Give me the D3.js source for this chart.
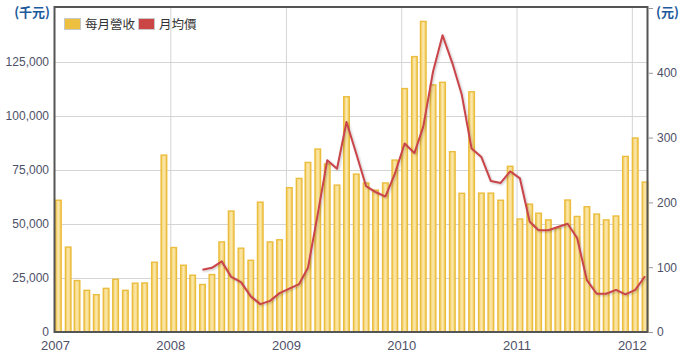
<!DOCTYPE html>
<html><head><meta charset="utf-8">
<script src="https://cdn.jsdelivr.net/npm/d3@7"></script>
<style>
html,body{margin:0;padding:0;background:#fff;}
svg{display:block;font-family:"Liberation Sans",Arial,sans-serif;}
</style></head>
<body><svg id="chart" width="681" height="359"></svg>
<script>
// ---- data ----
const startMonth = "2007-01";
const revenue = [
  61000, 39300, 23800, 19300, 17300, 20200, 24400, 19300, 22600, 22700, 32300, 81900,
  39100, 30900, 26300, 22000, 26600, 41700, 56000, 38800, 33200, 60100, 41700, 42700,
  66800, 71100, 78500, 84700, 77800, 68000, 108900, 73100, 69000, 65700, 69000, 79600,
  112700, 127500, 143800, 114400, 115600, 83500, 64200, 111200, 64300, 64300, 61000, 76700,
  52300, 59200, 55000, 51900, 48100, 61100, 53500, 58000, 54600, 51900, 53700, 81300,
  89800, 69400
];
const priceStartMonth = "2008-04";
const price = [
  96, 99, 109, 85, 77, 55, 43, 48, 60,
  67, 74, 99, 182, 265, 252, 324, 275, 225, 216, 209, 244,
  291, 276, 317, 402, 458, 415, 366, 283, 270, 233, 230, 248,
  237, 170, 157, 157, 162, 167, 145, 80, 59, 59, 65, 58,
  65, 86
];
const leftTicks = [0, 25000, 50000, 75000, 100000, 125000];
const rightTicks = [0, 100, 200, 300, 400];
const yearTicks = ["2007", "2008", "2009", "2010", "2011", "2012"];
const seriesNames = ["每月營收", "月均價"];
const leftUnit = "(千元)", rightUnit = "(元)";

// ---- build ----
const parseM = d3.timeParse("%Y-%m");
const m0 = parseM(startMonth), p0 = parseM(priceStartMonth);
const revData = revenue.map((v, i) => ({date: d3.timeMonth.offset(m0, i), value: v}));
const priceData = price.map((v, i) => ({date: d3.timeMonth.offset(p0, i), value: v}));

const L = 55, R = 647, T = 8, B = 332;
const svg = d3.select("#chart");

const x = d3.scaleTime()
  .domain([m0, d3.timeDay.offset(revData[revData.length - 1].date, 17)])
  .range([L, R]);
const yL = d3.scaleLinear().domain([0, 150000]).range([B, T]);
const yR = d3.scaleLinear().domain([0, 500]).range([B, T]);

// gradient for bars
const defs = svg.append("defs");
const g = defs.append("linearGradient").attr("id", "barGrad").attr("x1", "0").attr("x2", "1").attr("y1", "0").attr("y2", "0");
g.append("stop").attr("offset", "0%").attr("stop-color", "#f3cd5c");
g.append("stop").attr("offset", "50%").attr("stop-color", "#fbe8b0");
g.append("stop").attr("offset", "100%").attr("stop-color", "#f3cd5c");
const f = defs.append("filter").attr("id", "shadow").attr("x", "-5%").attr("y", "-5%").attr("width", "110%").attr("height", "120%");
f.append("feDropShadow").attr("dx", 1).attr("dy", 1).attr("stdDeviation", 1).attr("flood-color", "#000").attr("flood-opacity", 0.25);

// horizontal gridlines
svg.append("g")
  .attr("transform", `translate(${L},0)`)
  .call(d3.axisLeft(yL).tickValues(leftTicks).tickSize(-(R - L)).tickFormat(""))
  .call(s => s.select(".domain").remove())
  .call(s => s.selectAll("line").attr("stroke", "#d4d4d4"));

// vertical year gridlines
const yearDates = yearTicks.map(y => d3.timeParse("%Y")(y));
svg.append("g")
  .attr("transform", `translate(0,${B})`)
  .call(d3.axisBottom(x).tickValues(yearDates.slice(1)).tickSize(-(B - T)).tickFormat(""))
  .call(s => s.select(".domain").remove())
  .call(s => s.selectAll("line").attr("stroke", "#d4d4d4"));

// bars
const bw = 5.6;
svg.append("g").selectAll("rect").data(revData).join("rect")
  .attr("x", d => x(d.date) + 0.6)
  .attr("y", d => yL(d.value))
  .attr("width", bw)
  .attr("height", d => B - yL(d.value))
  .attr("fill", "url(#barGrad)")
  .attr("stroke", "#ebbd3e")
  .attr("stroke-width", 1.4);

// price line
const line = d3.line().x(d => x(d.date) + 3.4).y(d => yR(d.value));
svg.append("path").datum(priceData)
  .attr("d", line)
  .attr("fill", "none")
  .attr("stroke", "#c9444a")
  .attr("stroke-width", 2)
  .attr("stroke-linejoin", "round")
  .attr("filter", "url(#shadow)");

// frame
svg.append("rect").attr("x", L - 0.5).attr("y", T - 1).attr("width", R - L + 1).attr("height", B - T + 1)
  .attr("fill", "none").attr("stroke", "#555").attr("stroke-width", 2);

// left axis labels
svg.append("g")
  .attr("transform", `translate(${L - 1},0)`)
  .call(d3.axisLeft(yL).tickValues(leftTicks).tickSize(0).tickPadding(5).tickFormat(d3.format(",")))
  .call(s => s.select(".domain").remove())
  .call(s => s.selectAll("text").attr("fill", "#4e5068").attr("font-size", 12).attr("font-family", "Liberation Sans, Arial, sans-serif"));

// right axis
svg.append("g")
  .attr("transform", `translate(${R + 1},0)`)
  .call(d3.axisRight(yR).tickValues(rightTicks.concat([500])).tickSize(5).tickPadding(4)
    .tickFormat(d => rightTicks.includes(d) ? d : ""))
  .call(s => s.select(".domain").remove())
  .call(s => s.selectAll("line").attr("stroke", "#999"))
  .call(s => s.selectAll("text").attr("fill", "#4e5068").attr("font-size", 12).attr("font-family", "Liberation Sans, Arial, sans-serif"));

// bottom year labels
svg.append("g")
  .attr("transform", `translate(0,${B})`)
  .call(d3.axisBottom(x).tickValues(yearDates).tickSize(0).tickPadding(9).tickFormat(d3.timeFormat("%Y")))
  .call(s => s.select(".domain").remove())
  .call(s => s.selectAll("text").attr("fill", "#4e5068").attr("font-size", 13).attr("font-family", "Liberation Sans, Arial, sans-serif"));

// unit labels
svg.append("text").attr("x", 50).attr("y", 17).attr("text-anchor", "end")
  .attr("font-size", 13).attr("font-weight", "bold").attr("fill", "#1d5a9c")
  .attr("font-family", "Noto Sans CJK TC, sans-serif").text(leftUnit);
svg.append("text").attr("x", 656).attr("y", 17).attr("text-anchor", "start")
  .attr("font-size", 13).attr("font-weight", "bold").attr("fill", "#1d5a9c")
  .attr("font-family", "Noto Sans CJK TC, sans-serif").text(rightUnit);

// legend
const legColors = ["#edc13f", "#cc4646"];
const legX = [64, 138];
const leg = svg.append("g");
seriesNames.forEach((n, i) => {
  leg.append("rect").attr("x", legX[i] + 0.5).attr("y", 18.5).attr("width", 16).attr("height", 11)
    .attr("fill", legColors[i]).attr("stroke", "#c8c8c8").attr("stroke-width", 1);
  leg.append("text").attr("x", legX[i] + 21).attr("y", 28.5)
    .attr("font-size", 12.5).attr("fill", "#333")
    .attr("font-family", "Noto Sans CJK TC, sans-serif").text(n);
});
</script></body></html>
